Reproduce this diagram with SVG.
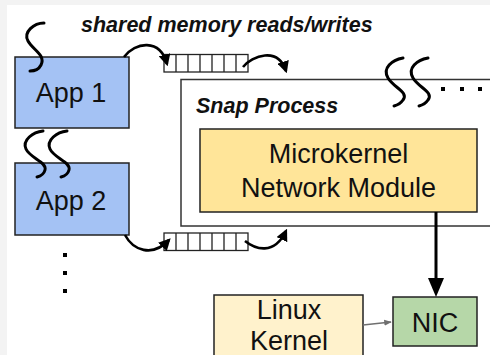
<svg xmlns="http://www.w3.org/2000/svg" width="490" height="355" viewBox="0 0 490 355">
  <defs>
    <marker id="headBlack" viewBox="0 0 10 10" refX="8" refY="5" markerWidth="4.6" markerHeight="4.6" orient="auto" markerUnits="strokeWidth">
      <path d="M0,0 L10,5 L0,10 Z" fill="#000"/>
    </marker>
    <marker id="headGrey" viewBox="0 0 10 10" refX="9" refY="5" markerWidth="5" markerHeight="5" orient="auto" markerUnits="strokeWidth">
      <path d="M0,1 L10,5 L0,9 Z" fill="#6f6f6f"/>
    </marker>
    <style>
      .box { stroke: #222; stroke-width: 1.5; }
      .app { fill: #a4c2f4; }
      .label { font-family: "Liberation Sans", Arial, sans-serif; font-size: 27px; fill: #111; text-anchor: middle; }
      .title { font-family: "Liberation Sans", Arial, sans-serif; font-size: 21.5px; font-weight: bold; font-style: italic; fill: #111; }
      .thread { fill: none; stroke: #000; stroke-width: 3; stroke-linecap: round; }
      .flow { fill: none; stroke: #000; stroke-width: 2.6; }
      .queue { fill: #fff; stroke: #222; stroke-width: 1.3; }
      .dot { fill: #000; }
    </style>
  </defs>

  <rect x="0" y="0" width="490" height="355" fill="#f3f3f3"/>
  <rect x="7" y="5" width="483" height="350" fill="#fff"/>

  <text class="title" x="81" y="32">shared memory reads/writes</text>

  <!-- Snap process container (runs off the right edge) -->
  <g id="snap-process">
    <rect x="181" y="79.5" width="320" height="146.5" fill="#fff" stroke="#333" stroke-width="1.5"/>
    <text class="title" x="196" y="113">Snap Process</text>
  </g>

  <g id="microkernel">
    <rect class="box" x="200" y="129" width="277" height="83" fill="#ffe599"/>
    <text class="label" x="338.5" y="163">Microkernel</text>
    <text class="label" x="338.5" y="197">Network Module</text>
  </g>

  <g id="app1">
    <rect class="box app" x="15" y="57" width="114" height="71"/>
    <text class="label" x="71" y="102">App 1</text>
  </g>

  <g id="app2">
    <rect class="box app" x="15" y="163" width="114" height="72"/>
    <text class="label" x="71" y="210">App 2</text>
  </g>

  <g id="linux-kernel">
    <rect class="box" x="214" y="295" width="149" height="62" fill="#fff2cc"/>
    <text class="label" x="289" y="319">Linux</text>
    <text class="label" x="289" y="350">Kernel</text>
  </g>

  <g id="nic">
    <rect class="box" x="393" y="297" width="84" height="49" fill="#b6d7a8"/>
    <text class="label" x="435" y="332">NIC</text>
  </g>

  <!-- shared-memory queues -->
  <g id="queue-top">
    <rect class="queue" x="164" y="54.5" width="84" height="17.5"/>
    <path d="M176,54.5V72M188,54.5V72M200,54.5V72M212,54.5V72M224,54.5V72M236,54.5V72" stroke="#222" stroke-width="1.3"/>
  </g>
  <g id="queue-bottom">
    <rect class="queue" x="164" y="233" width="84" height="17.5"/>
    <path d="M176,233V250.5M188,233V250.5M200,233V250.5M212,233V250.5M224,233V250.5M236,233V250.5" stroke="#222" stroke-width="1.3"/>
  </g>

  <!-- threads -->
  <g id="threads">
    <path class="thread" d="M44,23 C34,23 23,32 28,41 C33,50 46,55 41,65 C39,69 35,71 30,71"/>
    <path class="thread" d="M43,131 C33,132 22,140 26,149 C30,158 47,162 45,170 C44,174 41,176 37,177"/>
    <path class="thread" d="M67,131 C57,132 46,140 50,149 C54,158 71,162 69,170 C68,174 65,176 61,177"/>
    <path class="thread" d="M403,58 C392,60 382,68 388,78 C394,88 409,92 403,100 C401,103 398,105 394,106"/>
    <path class="thread" d="M428,58 C417,60 407,68 413,78 C419,88 434,92 428,100 C426,103 423,105 419,106"/>
    <rect class="dot" x="441" y="87" width="4" height="4"/>
    <rect class="dot" x="460" y="87" width="4" height="4"/>
    <rect class="dot" x="478" y="87" width="4" height="4"/>
    <rect class="dot" x="63" y="253" width="4" height="4"/>
    <rect class="dot" x="63" y="271" width="4" height="4"/>
    <rect class="dot" x="63" y="289" width="4" height="4"/>
  </g>

  <!-- connectors -->
  <g id="connectors">
    <path class="flow" d="M124,57 C135,42 160,38 167,64" marker-end="url(#headBlack)"/>
    <path class="flow" d="M243,67 C252,56 278,46 286,71" marker-end="url(#headBlack)"/>
    <path class="flow" d="M125,235 C133,250 152,258 169,240" marker-end="url(#headBlack)"/>
    <path class="flow" d="M245,241 C255,249 274,256 286,231" marker-end="url(#headBlack)"/>
    <path d="M436,212 V282" stroke="#000" stroke-width="3"/>
    <path d="M428,278 L444,278 L436,297 Z" fill="#000"/>
    <path d="M363,325 L391,322" stroke="#6f6f6f" stroke-width="1.5" marker-end="url(#headGrey)"/>
  </g>
</svg>
